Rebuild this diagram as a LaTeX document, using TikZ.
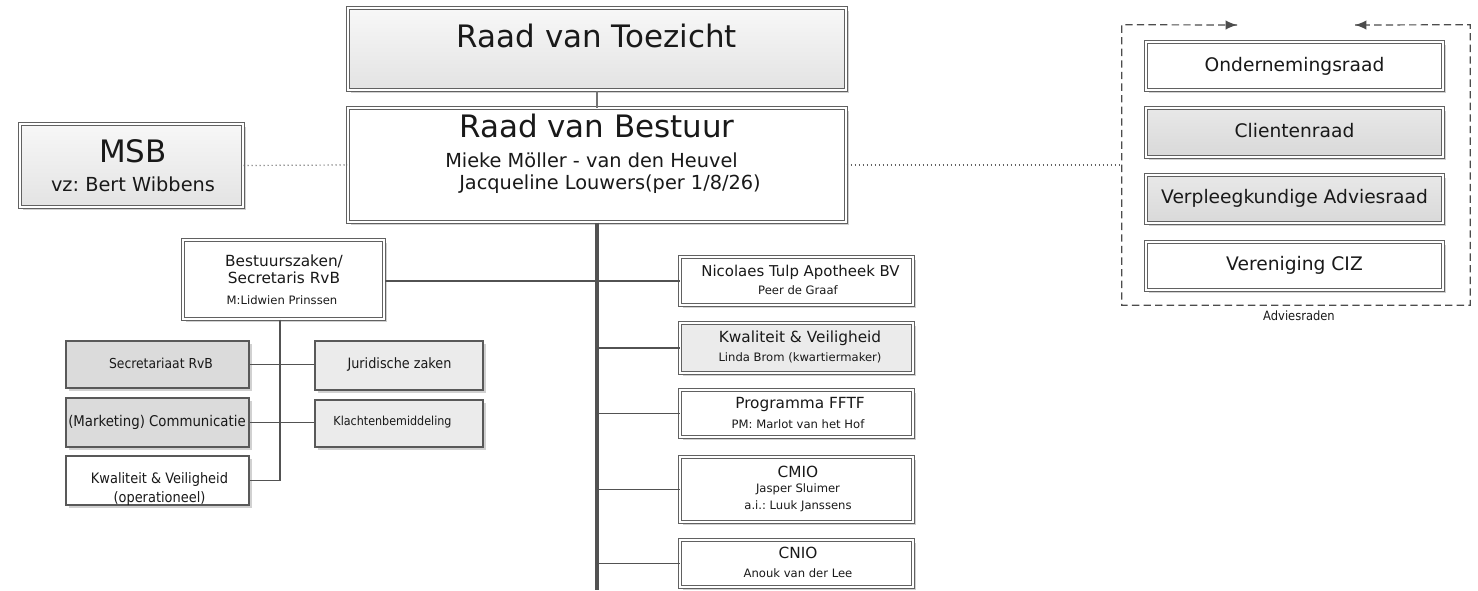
\documentclass[tikz,border=0pt]{standalone}
\usepackage{fontspec}
\setmainfont{DejaVu Sans}
\IfFontExistsTF{DejaVu Sans Condensed}
  {\newfontfamily\narrowfont{DejaVu Sans Condensed}}
  {\newfontfamily\narrowfont{DejaVu Sans}[FakeStretch=0.9]}
\usetikzlibrary{fit,shadows,arrows.meta,calc}
\frenchspacing

% font sizes
\newcommand\fbig{\fontsize{23.2}{27}\selectfont}
\newcommand\fmid{\fontsize{14.5}{17}\selectfont}
\newcommand\fadv{\fontsize{14}{17}\selectfont}
\newcommand\fhead{\fontsize{11.5}{14}\selectfont}
\newcommand\fsub{\fontsize{8.7}{11}\selectfont}

\tikzset{
  dbl/.style={draw=black!62, double=white, double distance=1.4pt, line width=0.75pt, inner sep=0pt},
  sgl/.style={draw=black!65, line width=0.95pt, inner sep=0pt},
  shd/.style={drop shadow={shadow xshift=2.2pt, shadow yshift=-2.2pt, opacity=0.18, fill=black}},
  softfill/.style={top color=white!97!black, bottom color=white!89!black},
  greyfill/.style={top color=white!91!black, bottom color=white!85!black},
  plainfill/.style={fill=white},
  darkfill/.style={fill=white!86!black},
  lightfill/.style={fill=white!92!black},
  txt/.style={inner sep=0pt, anchor=base, text=black!90},
  thinlink/.style={draw=black!55, line width=0.9pt},
  link/.style={draw=black!68, line width=1.35pt},
  trunk/.style={draw=black!68, line width=2.3pt},
  dots/.style={draw=black!62, line width=0.9pt, dash pattern=on 0.9pt off 2.1pt},
  grp/.style={draw=black!70, line width=0.9pt, dash pattern=on 5.5pt off 3.2pt},
  tip/.style={draw=black!70, line width=0.9pt, -{Latex[length=8.5pt,width=7pt]}},
}

\begin{document}
\begin{tikzpicture}[x=0.75pt, y=-0.75pt]
\useasboundingbox (0,0) rectangle (1478,590);

% ---------- board level ----------
\node[dbl, shd, softfill, fit={(348,8) (846,90)}] (rvt) {};
\node[txt, font=\fbig] (rvtT) at (597,47) {Raad van Toezicht};

\node[dbl, shd, plainfill, fit={(348,108) (846,222)}] (rvb) {};
\node[txt, font=\fbig] (rvbT) at (597,137) {Raad van Bestuur};
\node[txt, font=\fmid] (rvbA) at (591.5,167) {Mieke Möller - van den Heuvel};
\node[txt, font=\fmid] (rvbB) at (610,189) {Jacqueline Louwers(per 1/8/26)};

\node[dbl, shd, softfill, fit={(20,124) (243,207)}] (msb) {};
\node[txt, font=\fbig] (msbT) at (133,162) {MSB};
\node[txt, font=\fmid] (msbS) at (133,191) {vz: Bert Wibbens};

% ---------- staff tree on the left ----------
\node[dbl, shd, plainfill, fit={(183,240) (384,319)}] (bz) {};
\node[txt, font=\fhead] (bzA) at (284,266) {Bestuurszaken/};
\node[txt, font=\fhead] (bzB) at (284,283) {Secretaris RvB};
\node[txt, font=\fsub] (bzC) at (282,304) {M:Lidwien Prinssen};

\node[sgl, shd, darkfill, fit={(66,341) (249,388)}] (sec) {};
\node[txt, font={\narrowfont\fontsize{10.3}{12}\selectfont}] (secT) at (161,368) {Secretariaat RvB};

\node[sgl, shd, lightfill, fit={(315,341) (483,390)}] (jur) {};
\node[txt, font={\narrowfont\fontsize{10.7}{12}\selectfont}] (jurT) at (399.5,368) {Juridische zaken};

\node[sgl, shd, darkfill, fit={(66,398) (249,447)}] (mkt) {};
\node[txt, font={\narrowfont\fontsize{11.1}{12}\selectfont}] (mktT) at (157,426) {(Marketing) Communicatie};

\node[sgl, shd, lightfill, fit={(315,400) (483,447)}] (kla) {};
\node[txt, font={\narrowfont\fontsize{9.3}{11}\selectfont}] (klaT) at (392.5,425) {Klachtenbemiddeling};

\node[sgl, shd, plainfill, fit={(66,456) (249,505)}] (kop) {};
\node[txt, font={\narrowfont\fontsize{10.8}{12}\selectfont}] (kopA) at (159.5,483) {Kwaliteit \& Veiligheid};
\node[txt, font={\narrowfont\fontsize{10.8}{12}\selectfont}] (kopB) at (159.5,502) {(operationeel)};

% ---------- line units on the right of the trunk ----------
\node[dbl, shd, plainfill, fit={(680,257) (913,305)}] (nt) {};
\node[txt, font=\fontsize{11.2}{13}\selectfont] (ntA) at (800.5,276) {Nicolaes Tulp Apotheek BV};
\node[txt, font=\fsub] (ntB) at (798,294) {Peer de Graaf};

\node[dbl, shd, lightfill, fit={(680,323) (913,373)}] (kv) {};
\node[txt, font=\fhead] (kvA) at (800,342) {Kwaliteit \& Veiligheid};
\node[txt, font=\fsub] (kvB) at (800,361) {Linda Brom (kwartiermaker)};

\node[dbl, shd, plainfill, fit={(680,390) (913,437)}] (pf) {};
\node[txt, font=\fhead] (pfA) at (800,408) {Programma FFTF};
\node[txt, font=\fsub] (pfB) at (798,428) {PM: Marlot van het Hof};

\node[dbl, shd, plainfill, fit={(680,457) (913,522)}] (cmio) {};
\node[txt, font=\fhead] (cmioA) at (798,477) {CMIO};
\node[txt, font=\fsub] (cmioB) at (798,492) {Jasper Sluimer};
\node[txt, font=\fsub] (cmioC) at (798,509) {a.i.: Luuk Janssens};

\node[dbl, shd, plainfill, fit={(680,540) (913,587)}] (cnio) {};
\node[txt, font=\fhead] (cnioA) at (798,558) {CNIO};
\node[txt, font=\fsub] (cnioB) at (798,577) {Anouk van der Lee};

% ---------- advisory councils ----------
\node[inner sep=0pt, fit={(1122,25) (1470,305)}] (adv) {};
\coordinate (advL) at (1237,25);
\coordinate (advR) at (1355,25);
\draw[grp] (advL) -- (adv.north west) -- (adv.south west) -- (adv.south east) -- (adv.north east) -- (advR);
\draw[tip] ($(advL)+(-6,0)$) -- (advL);
\draw[tip] ($(advR)+(6,0)$) -- (advR);
\node[txt, font={\narrowfont\fontsize{9.6}{11}\selectfont}] (advT) at (1299,320) {Adviesraden};

\node[dbl, shd, plainfill, fit={(1146,42) (1443,90)}] (or) {};
\node[txt, font=\fadv] (orT) at (1294.5,71) {Ondernemingsraad};

\node[dbl, shd, greyfill, fit={(1146,108) (1443,157)}] (cr) {};
\node[txt, font=\fadv] (crT) at (1294.5,137) {Clientenraad};

\node[dbl, shd, greyfill, fit={(1146,175) (1443,223)}] (var) {};
\node[txt, font=\fadv] (varT) at (1294.5,203) {Verpleegkundige Adviesraad};

\node[dbl, shd, plainfill, fit={(1146,242) (1443,290)}] (ciz) {};
\node[txt, font=\fadv] (cizT) at (1294.5,270) {Vereniging CIZ};

% ---------- connectors ----------
\coordinate (trunkend) at (598,590);
\coordinate (lx) at (280,0);

\draw[thinlink] (rvt.south) -- (rvb.north);
\draw[trunk] (rvb.south) -- (rvb.south |- trunkend);

\draw[dots] (msb.east) -- (rvb.west);
\draw[dots] (rvb.east) -- (adv.west);

\draw[link] (nt.west) -- (nt.west -| bz.east);
\draw[link] (kv.west) -- (kv.west -| rvb.south);
\draw[link] (pf.west) -- (pf.west -| rvb.south);
\draw[link] (cmio.west) -- (cmio.west -| rvb.south);
\draw[link] (cnio.west) -- (cnio.west -| rvb.south);

\draw[link] (bz.south -| lx) |- (kop.east);
\draw[link] (sec.east) -- (sec.east -| jur.west);
\draw[link] (mkt.east) -- (mkt.east -| kla.west);
\end{tikzpicture}
\end{document}
